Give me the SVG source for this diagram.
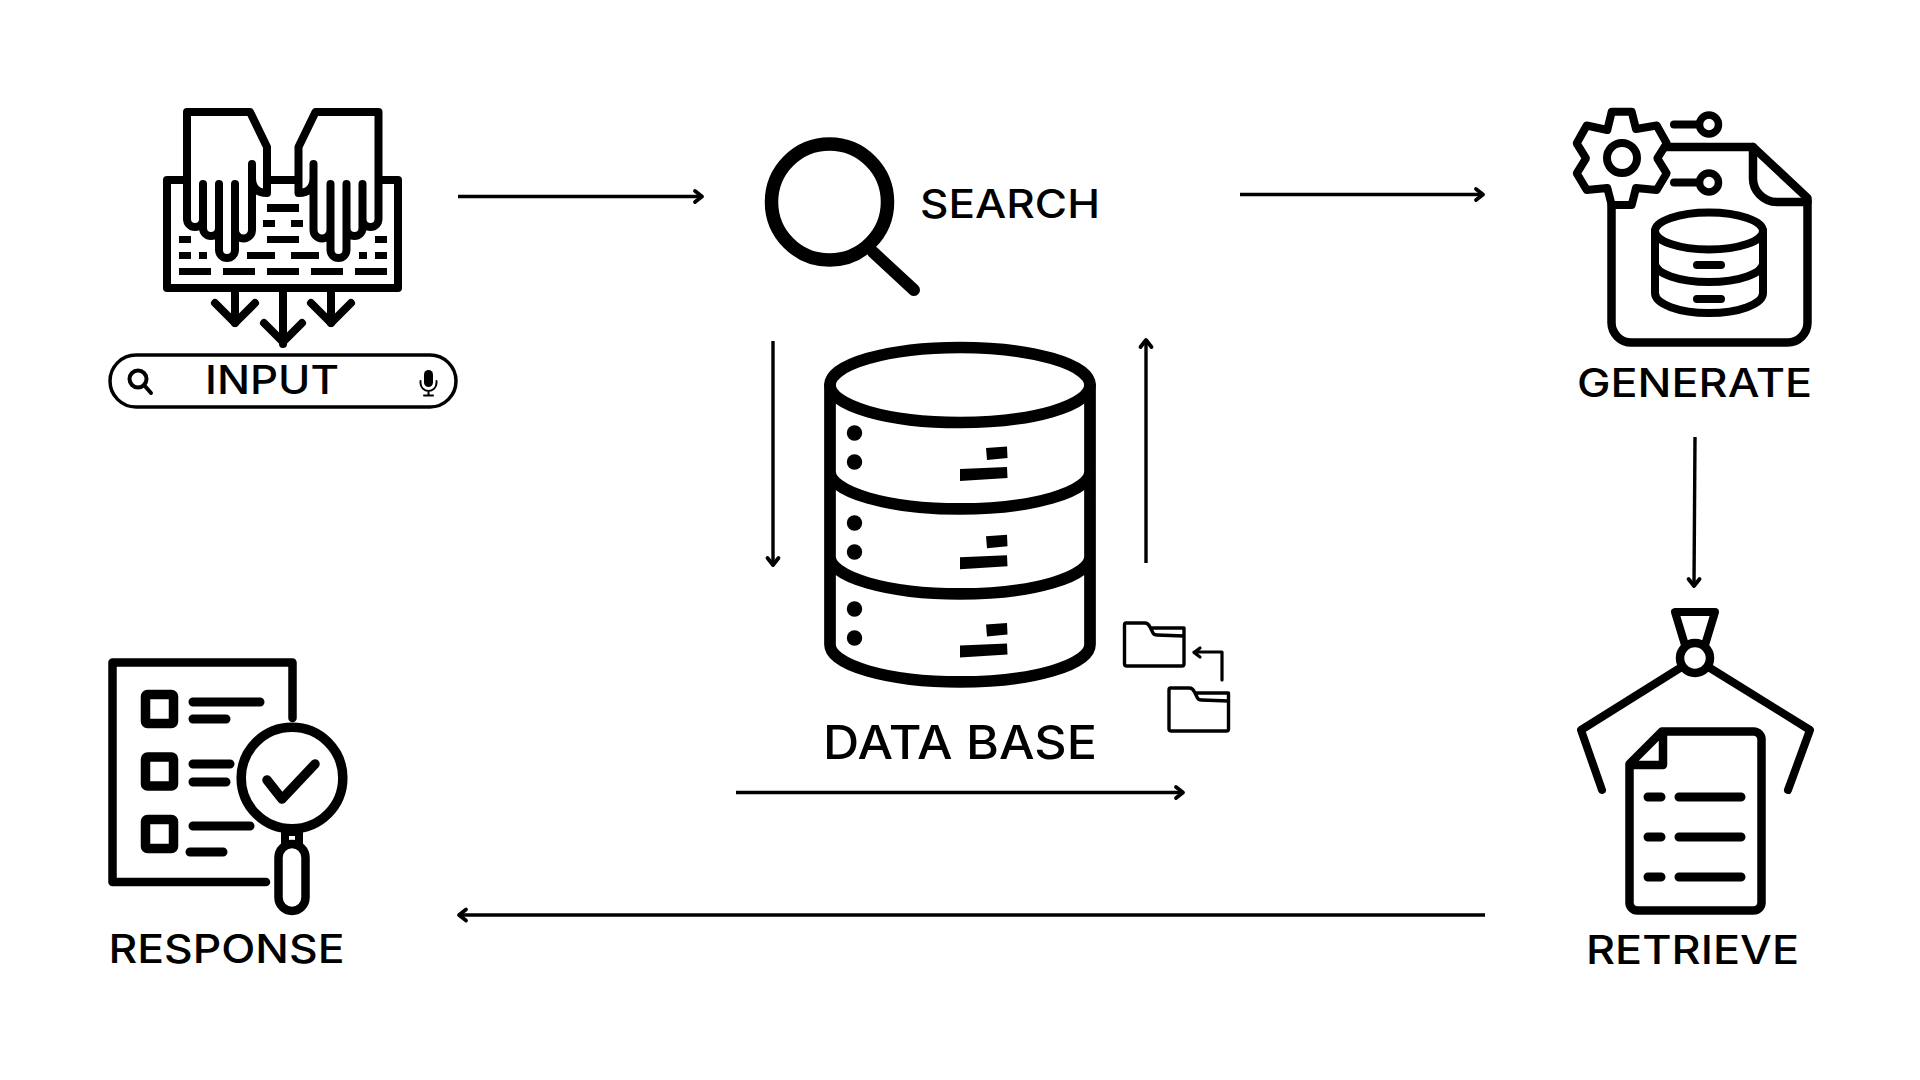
<svg xmlns="http://www.w3.org/2000/svg" width="1920" height="1080" viewBox="0 0 1920 1080">
<style>
.s{fill:none;stroke:#000;stroke-linecap:round;stroke-linejoin:round}
.w8{stroke-width:8.5}
.f{fill:#000;stroke:none}
.c{fill:none;stroke:#000;stroke-width:3.4}
.t{font-family:Inter,"Open Sans","Liberation Sans",sans-serif;font-weight:500;fill:#000;font-size:39px}
</style>
<defs>
<marker id="a" markerUnits="userSpaceOnUse" markerWidth="16" markerHeight="20" refX="12" refY="10" orient="auto"><path d="M5 4.500L12 10L5 15.500" fill="none" stroke="#000" stroke-width="3.800" stroke-linecap="round" stroke-linejoin="round"/></marker>
</defs>
<rect width="1920" height="1080" fill="#fff"/>
<g id="connectors">
<path class="c" marker-end="url(#a)" d="M458 196.500H702"/>
<path class="c" marker-end="url(#a)" d="M1240 194.500H1483"/>
<path class="c" marker-end="url(#a)" d="M1695 437L1694 586"/>
<path class="c" marker-end="url(#a)" d="M1485 915H459"/>
<path class="c" marker-end="url(#a)" d="M773 341V565"/>
<path class="c" marker-end="url(#a)" d="M1146 563V340"/>
<path class="c" marker-end="url(#a)" d="M736 792.500H1183"/>
</g>
<g id="input">
<path class="s" stroke-width="8" d="M187 180H167V288H398V180H378M267 180H298"/>
<g id="input-hand-l"><path class="s" stroke-width="8" fill="#fff" style="fill:#fff" d="M252 164V178Q252 193 267 193V147L250 112H187V219a8 8 0 0 0 16 0V184V228a8 8 0 0 0 16 0V184V250a8 8 0 0 0 16 0V184V230a8.500 8.500 0 0 0 17 0V164"/></g>
<g id="input-hand-r" transform="matrix(-1 0 0 1 565.500 0)"><path class="s" stroke-width="8" style="fill:#fff" d="M252 164V178Q252 193 267 193V147L250 112H187V219a8 8 0 0 0 16 0V184V228a8 8 0 0 0 16 0V184V250a8 8 0 0 0 16 0V184V230a8.500 8.500 0 0 0 17 0V164"/></g>
<path class="f" d="M267 204h32v8h-32zM263 220h12v7h-12zM291 220h12v7h-12zM267 236h32v7h-32zM179 236h12v7h-12zM375 236h12v7h-12zM179 252h12v7h-12zM199 252h8v7h-8zM247 252h28v7h-28zM291 252h28v7h-28zM359 252h8v7h-8zM375 252h12v7h-12zM179 268h32v7h-32zM223 268h32v7h-32zM267 268h32v7h-32zM311 268h32v7h-32zM355 268h32v7h-32z"/>
<path class="s" stroke-width="8" stroke-linecap="butt" d="M235 292V323M283 292V344M331 292V323"/>
<path class="s" stroke-width="8" stroke-linecap="butt" d="M215 303L235 323L255 303M264 323L283 342L302 323M311 303L331 323L351 303"/>
<rect class="s" stroke-width="3.500" x="110" y="355" width="346" height="52" rx="26"/>
<circle class="s" stroke-width="4" cx="138" cy="379" r="8.500"/>
<path class="s" stroke-width="4" d="M144 385L151 393"/>
<rect class="f" x="424" y="370" width="9" height="17" rx="4.500"/>
<path class="s" stroke-width="2" d="M420.500 381v2a8 8 0 0 0 16 0v-2M428.500 391v4M424 395.500h9"/>
<text class="t" x="205" y="394" textLength="134" lengthAdjust="spacingAndGlyphs">INPUT</text>
</g>
<g id="search">
<circle class="s" stroke-width="13.500" cx="829.500" cy="202" r="58"/>
<path class="s" stroke-width="12" d="M873 252L914 290"/>
<text class="t" x="920" y="218" textLength="180" lengthAdjust="spacingAndGlyphs">SEARCH</text>
</g>
<g id="generate">
<path class="s w8" d="M1665 147H1753L1807.500 198V322A20 20 0 0 1 1787.500 342.500H1632A20 20 0 0 1 1611.500 322V205"/>
<path class="s w8" d="M1753 147V177A24 24 0 0 0 1777 202H1807.500"/>
<path class="s" stroke-width="8" style="fill:#fff" d="M1611.700 111.700H1631.700L1636 129L1656.700 125.500L1666.700 143.300L1657.300 158.300L1666.700 173.300L1656.700 190L1636 188L1631.700 205H1611.700L1607.300 188L1586.700 190L1576.700 173.300L1586 158.300L1576.700 143.300L1586.700 125.500L1607.300 130Z"/>
<circle class="s" stroke-width="8" cx="1622" cy="158" r="15"/>
<path class="s" stroke-width="8" d="M1674 124.500H1699M1674 182.500H1699"/>
<circle class="s" stroke-width="7.500" cx="1709" cy="124.500" r="9.500"/>
<circle class="s" stroke-width="7.500" cx="1709" cy="182.500" r="9.500"/>
<ellipse class="s" stroke-width="8" cx="1709" cy="231" rx="54" ry="18.500"/>
<path class="s" stroke-width="8" d="M1655 231V293A54 20 0 0 0 1763 293V231M1655 263A54 19 0 0 0 1763 263"/>
<path class="s" stroke-width="8" d="M1697 265H1721M1697 299H1721"/>
<text class="t" x="1577" y="397" textLength="235" lengthAdjust="spacingAndGlyphs">GENERATE</text>
</g>
<g id="retrieve">
<path class="s" stroke-width="8" d="M1685 645L1675 612H1715L1705 645"/>
<circle class="s" stroke-width="8.500" cx="1695" cy="658" r="15"/>
<path class="s" stroke-width="8" d="M1680 668L1581 730L1602 790M1710 668L1810 730L1788 790"/>
<path class="s w8" d="M1662 731.500H1753A8 8 0 0 1 1761.500 740V902A8 8 0 0 1 1753 910.500H1638A8 8 0 0 1 1629.500 902V764ZM1663 733V765H1630"/>
<path class="s" stroke-width="9" d="M1648 797H1661M1679 797H1741M1648 837H1661M1679 837H1741M1648 877H1661M1679 877H1741"/>
<text class="t" x="1586" y="963.500" textLength="213" lengthAdjust="spacingAndGlyphs">RETRIEVE</text>
</g>
<g id="response">
<path class="s w8" d="M292.500 718V662.500H112.500V882H266"/>
<rect class="s" stroke-width="9.500" x="145.500" y="694.500" width="28" height="29" rx="2"/>
<rect class="s" stroke-width="9.500" x="145.500" y="757" width="28" height="29" rx="2"/>
<rect class="s" stroke-width="9.500" x="145.500" y="819.500" width="28" height="29" rx="2"/>
<path class="s" stroke-width="9" d="M193 702H260M193 719H226M193 764H230M193 782H226M193 826H250M190 852H223"/>
<circle class="s" stroke-width="9.500" cx="292" cy="778" r="50.800"/>
<path class="s" stroke-width="9.500" d="M267 780L282 799L315 764"/>
<rect class="s" stroke-width="8" x="285" y="832" width="14" height="12" stroke-linejoin="miter"/>
<rect class="s w8" x="278.500" y="844" width="27" height="67" rx="13.500" style="fill:#fff"/>
<text class="t" x="108.500" y="963" textLength="236" lengthAdjust="spacingAndGlyphs">RESPONSE</text>
</g>
<g id="database">
<ellipse class="s" stroke-width="11.700" cx="960" cy="385" rx="130" ry="37.500"/>
<path class="s" stroke-width="11.700" d="M830 385V644.500A130 37.500 0 0 0 1090 644.500V385M830 471.500A130 37.500 0 0 0 1090 471.500M830 556.500A130 37.500 0 0 0 1090 556.500"/>
<g class="f">
<circle cx="854.500" cy="433" r="7.700"/><circle cx="854.500" cy="462" r="7.700"/><circle cx="854.500" cy="523" r="7.700"/><circle cx="854.500" cy="552" r="7.700"/><circle cx="854.500" cy="609" r="7.700"/><circle cx="854.500" cy="638" r="7.700"/>
<path d="M986 448L1007 446.500L1007.500 458L987 460ZM960 469L1007 467L1007.500 478L960 481Z"/>
<path d="M986 536.300L1007 534.800L1007.500 546.300L987 548.300ZM960 557.300L1007 555.300L1007.500 566.300L960 569.300Z"/>
<path d="M986 624.600L1007 623.100L1007.500 634.600L987 636.600ZM960 645.600L1007 643.600L1007.500 654.600L960 657.600Z"/>
</g>
<text class="t" x="823" y="759" style="font-size:46px" textLength="274" lengthAdjust="spacingAndGlyphs">DATA BASE</text>
</g>
<g id="folders">
<path class="s" stroke-width="3.400" d="M1126 623H1145Q1148 623 1150 627L1153 633Q1154 635 1157 635L1184 636V664Q1184 666 1182 666H1127Q1124.500 666 1124.500 664V625Q1124.500 623 1126 623ZM1151 628H1184V636"/>
<path class="s" stroke-width="3.400" transform="translate(44.500 65)" d="M1126 623H1145Q1148 623 1150 627L1153 633Q1154 635 1157 635L1184 636V664Q1184 666 1182 666H1127Q1124.500 666 1124.500 664V625Q1124.500 623 1126 623ZM1151 628H1184V636"/>
<path class="s" stroke-width="3.200" d="M1222 680V652H1194M1200 648L1194 652.500L1200 657"/>
</g>
</svg>
